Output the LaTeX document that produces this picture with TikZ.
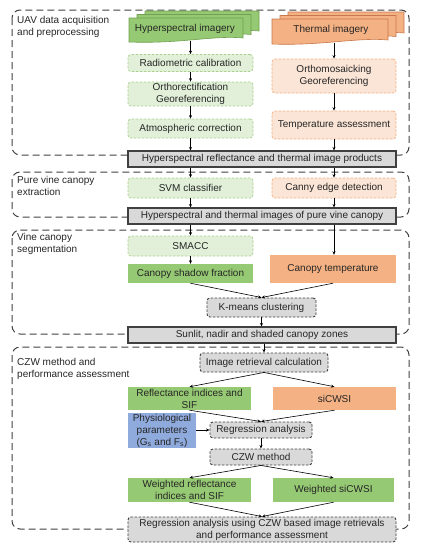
\documentclass[tikz,border=0pt]{standalone}
\usepackage{fontspec}
\setmainfont{Liberation Sans}
\usetikzlibrary{arrows.meta}
\definecolor{txt}{RGB}{38,38,38}
\definecolor{dk}{RGB}{64,64,64}
\definecolor{gfill}{RGB}{150,201,115}
\definecolor{gedge}{RGB}{112,160,80}
\definecolor{lgfill}{RGB}{226,240,217}
\definecolor{lgdraw}{RGB}{169,209,142}
\definecolor{ofill}{RGB}{244,177,131}
\definecolor{oedge}{RGB}{200,120,75}
\definecolor{lofill}{RGB}{251,229,214}
\definecolor{lodraw}{RGB}{244,177,131}
\definecolor{greyf}{RGB}{217,217,217}
\definecolor{bfill}{RGB}{143,170,220}
\begin{document}
\begin{tikzpicture}[x=1pt,y=-1pt,
  base/.style={font=\fontsize{10}{12}\selectfont, text=txt, align=center, inner sep=1pt},
  lg/.style={base, fill=lgfill, draw=lgdraw, line width=0.7pt, dash pattern=on 2.5pt off 1.5pt, rounded corners=3},
  lo/.style={base, fill=lofill, draw=lodraw, line width=0.7pt, dash pattern=on 2.5pt off 1.5pt, rounded corners=3},
  sg/.style={base, fill=gfill},
  so/.style={base, fill=ofill},
  bl/.style={base, fill=bfill},
  gbar/.style={base, fill=greyf, draw=dk, line width=1.1pt},
  gdash/.style={base, fill=greyf, draw=dk, line width=0.9pt, dash pattern=on 2.5pt off 1.5pt, rounded corners=3},
  grp/.style={draw=dk, line width=1pt, dash pattern=on 7pt off 4pt, rounded corners=8},
  lbl/.style={font=\fontsize{10}{12}\selectfont, text=txt, align=left, inner sep=0pt, anchor=north west},
  arr/.style={-{Stealth[length=3.5pt,width=3pt]}, line width=0.6pt, draw=black}
]
\useasboundingbox (0,0) rectangle (423,550);

% groups
\draw[grp] (12,10) rectangle (409,155);
\draw[grp] (12,172) rectangle (409,217);
\draw[grp] (12,230) rectangle (409,334);
\draw[grp] (12,347) rectangle (409,529);

\node[lbl] (l1) at (17,16.5) {UAV data acquisition\\and preprocessing};
\node[lbl] (l2) at (17,176) {Pure vine canopy\\extraction};
\node[lbl] (l3) at (17,233) {Vine canopy\\segmentation};
\node[lbl] (l4) at (17,358) {CZW method and\\performance assessment};

% multi-document shapes
\foreach \dx/\dy in {16/-7, 8/-3.5, 0/0}{
  \filldraw[fill=gfill, draw=gedge, line width=0.6pt, shift={(\dx,\dy)}]
    (129,18) -- (243,18) -- (243,38) .. controls (215,35) and (180,44) .. (129,42) -- cycle;
  \filldraw[fill=ofill, draw=oedge, line width=0.6pt, shift={(\dx,\dy)}]
    (272,19) -- (388,19) -- (388,40) .. controls (360,37) and (320,46) .. (272,44) -- cycle;
}
\node[base] (hyper) at (185,28.5) {Hyperspectral imagery};
\node[base] (therm) at (331,30) {Thermal imagery};
\coordinate (hyb) at (190.5,40.5);
\coordinate (thb) at (334,42.5);

% stage 1
\node[lg, minimum width=125, minimum height=17] (rad) at (190.5,63) {Radiometric calibration};
\node[lg, minimum width=125, minimum height=24] (ortho) at (190.5,94) {Orthorectification\\Georeferencing};
\node[lg, minimum width=125, minimum height=19] (atm) at (190.5,128.5) {Atmospheric correction};
\node[lo, minimum width=124, minimum height=34] (omos) at (334,76) {Orthomosaicking\\Georeferencing};
\node[lo, minimum width=124, minimum height=28] (temp) at (334,125) {Temperature assessment};
\node[gbar, minimum width=268, minimum height=16] (bar1) at (262,159) {Hyperspectral reflectance and thermal image products};

% stage 2
\node[lg, minimum width=125, minimum height=20] (svm) at (190.5,188) {SVM classifier};
\node[lo, minimum width=124, minimum height=20] (canny) at (334,188) {Canny edge detection};
\node[gbar, minimum width=268, minimum height=16] (bar2) at (262,216) {Hyperspectral and thermal images of pure vine canopy};

% stage 3
\node[lg, minimum width=125, minimum height=20] (smacc) at (190.5,246) {SMACC};
\node[sg, minimum width=125, minimum height=19] (shadow) at (190.5,273.5) {Canopy shadow fraction};
\node[so, minimum width=126, minimum height=28] (ctemp) at (333,269) {Canopy temperature};
\node[gdash, minimum width=109, minimum height=19] (kmeans) at (261.5,307.5) {K-means clustering};
\node[gbar, minimum width=268, minimum height=16] (bar3) at (262,335) {Sunlit, nadir and shaded canopy zones};

% stage 4
\node[gdash, minimum width=128, minimum height=19] (imgret) at (264,362.5) {Image retrieval calculation};
\node[sg, minimum width=123, minimum height=23] (refl) at (189.5,398.5) {Reflectance indices and\\SIF};
\node[so, minimum width=123, minimum height=23] (sicwsi) at (334.5,398.5) {siCWSI};
\node[bl, minimum width=68, minimum height=35] (phys) at (162,430.5) {Physiological\\parameters\\(G\textsubscript{s} and F\textsubscript{s})};
\node[gdash, minimum width=102, minimum height=16] (regr) at (261,430) {Regression analysis};
\node[gdash, minimum width=102, minimum height=16] (czw) at (261,457) {CZW method};
\node[sg, minimum width=123, minimum height=24] (wrefl) at (189.5,490) {Weighted reflectance\\indices and SIF};
\node[sg, minimum width=121, minimum height=24] (wsi) at (333.5,490) {Weighted siCWSI};
\node[gdash, minimum width=268, minimum height=25] (final) at (262,529.5) {Regression analysis using CZW based image retrievals\\and performance assessment};

% connectors
\draw[arr] (hyb) -- (rad.north);
\draw[arr] (rad) -- (ortho);
\draw[arr] (ortho) -- (atm);
\draw[arr] (atm) -- (atm.south |- bar1.north);
\draw[arr] (thb) -- (omos.north);
\draw[arr] (omos) -- (temp);
\draw[arr] (temp) -- (temp.south |- bar1.north);
\draw[arr] (svm.north |- bar1.south) -- (svm);
\draw[arr] (canny.north |- bar1.south) -- (canny);
\draw[arr] (svm) -- (svm.south |- bar2.north);
\draw[arr] (canny) -- (canny.south |- bar2.north);
\draw[arr] (smacc.north |- bar2.south) -- (smacc);
\draw[arr] (canny.north |- bar2.south) -- (canny.north |- ctemp.north);
\draw[arr] (smacc) -- (shadow);
\draw[arr] (shadow.south) -- (kmeans.north);
\draw[arr] (ctemp.south) -- (kmeans.north);
\draw[arr] (kmeans) -- (kmeans.south |- bar3.north);
\draw[arr] (imgret.north |- bar3.south) -- (imgret);
\draw[arr] (imgret.south) -- (refl.north);
\draw[arr] (imgret.south) -- (sicwsi.north);
\draw[arr] (refl.south) -- (regr.north);
\draw[arr] (sicwsi.south) -- (regr.north);
\draw[arr] (phys.east |- regr.west) -- (regr.west);
\draw[arr] (regr) -- (czw);
\draw[arr] (czw.south) -- (wrefl.north);
\draw[arr] (czw.south) -- (wsi.north);
\draw[arr] (wrefl.south) -- (final.north);
\draw[arr] (wsi.south) -- (final.north);
\end{tikzpicture}
\end{document}
